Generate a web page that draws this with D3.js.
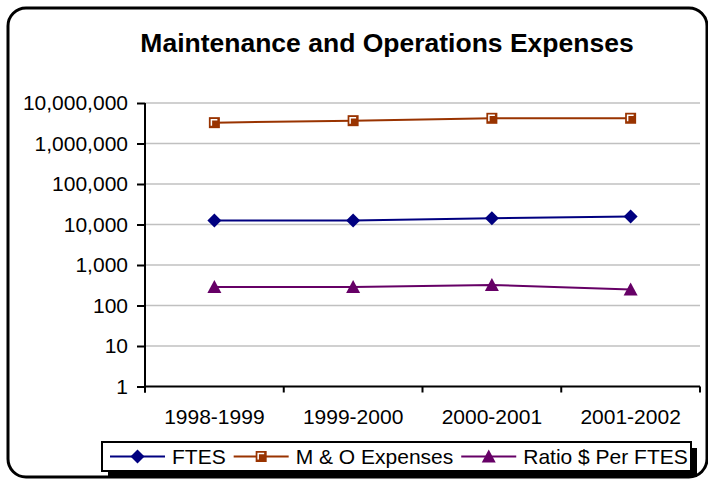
<!DOCTYPE html>
<html>
<head>
<meta charset="utf-8">
<script src="https://cdn.jsdelivr.net/npm/d3@7"></script>
<style>
  body { margin: 0; background: #fff; }
  svg { display: block; font-family: Arial, "Liberation Sans", sans-serif; }
</style>
</head>
<body>
<svg id="chart" width="708" height="479"></svg>
<script>
// data
var years = ["1998-1999", "1999-2000", "2000-2001", "2001-2002"];
var ftes = [12500, 12500, 14300, 15800];
var moExpenses = [3270000, 3660000, 4190000, 4200000];
var ratioPerFtes = [288, 288, 323, 250];
var yTicks = [1, 10, 100, 1000, 10000, 100000, 1000000, 10000000];

var series = [
  { name: "FTES", values: ftes, color: "#000080", marker: "diamond" },
  { name: "M & O Expenses", values: moExpenses, color: "#993300", marker: "square" },
  { name: "Ratio $ Per FTES", values: ratioPerFtes, color: "#660066", marker: "triangle" }
];

var svg = d3.select("#chart");
var plotLeft = 145, plotRight = 700, plotTop = 103, plotBottom = 386.5;

// chart area border
svg.append("rect")
    .attr("x", 8).attr("y", 8)
    .attr("width", 699).attr("height", 469)
    .attr("rx", 18)
    .attr("fill", "#fff")
    .attr("stroke", "#000")
    .attr("stroke-width", 3);

svg.append("text")
    .attr("x", 387).attr("y", 52)
    .attr("text-anchor", "middle")
    .attr("font-size", 26.5)
    .attr("font-weight", "bold")
    .text("Maintenance and Operations Expenses");

var x = d3.scaleBand().domain(years).range([plotLeft, plotRight]);
var y = d3.scaleLog().domain([1, 10000000]).range([plotBottom, plotTop]);

// gridlines
svg.append("g")
    .selectAll("line")
    .data(yTicks.slice(1))
    .enter().append("line")
      .attr("x1", plotLeft).attr("x2", plotRight)
      .attr("y1", function(d) { return y(d); })
      .attr("y2", function(d) { return y(d); })
      .attr("stroke", "#c0c0c0")
      .attr("stroke-width", 1.5);

var yAxis = svg.append("g")
    .attr("transform", "translate(" + plotLeft + ",0)")
    .call(d3.axisLeft(y).tickValues(yTicks).tickFormat(d3.format(",")).tickSize(8).tickPadding(9));

var xAxis = svg.append("g")
    .attr("transform", "translate(0," + plotBottom + ")")
    .call(d3.axisBottom(x).tickSize(0).tickPadding(23));

// category boundary ticks
xAxis.selectAll(".bound")
    .data(d3.range(years.length + 1))
    .enter().append("line")
      .attr("class", "bound")
      .attr("x1", function(i) { return plotLeft + i * x.step(); })
      .attr("x2", function(i) { return plotLeft + i * x.step(); })
      .attr("y1", 0).attr("y2", 6)
      .attr("stroke", "#000").attr("stroke-width", 2);

[yAxis, xAxis].forEach(function(a) {
  a.select(".domain").attr("stroke", "#000").attr("stroke-width", 2);
  a.selectAll(".tick line").attr("stroke", "#000").attr("stroke-width", 2);
  a.selectAll("text").attr("font-size", 21).attr("fill", "#000")
      .attr("font-family", "Arial, 'Liberation Sans', sans-serif");
});
yAxis.select(".domain").attr("d", "M0," + plotTop + "V" + (plotBottom + 6));
xAxis.select(".domain").attr("d", "M" + plotLeft + ",0H" + plotRight);

function drawMarker(g, type, color) {
  if (type === "diamond") {
    g.append("path").attr("d", "M0,-7L7,0L0,7L-7,0Z").attr("fill", color);
  } else if (type === "square") {
    g.append("rect").attr("x", -5.5).attr("y", -5.5).attr("width", 11).attr("height", 11)
        .attr("fill", color);
    g.append("path").attr("d", "M-3,3V-3H3").attr("fill", "none")
        .attr("stroke", "#fff").attr("stroke-width", 1.5);
  } else {
    g.append("path").attr("d", "M0,-7L7,6L-7,6Z").attr("fill", color);
  }
}

var line = d3.line()
    .x(function(d, i) { return x(years[i]) + x.bandwidth() / 2; })
    .y(function(d) { return y(d); });

series.forEach(function(s) {
  svg.append("path")
      .datum(s.values)
      .attr("d", line)
      .attr("fill", "none")
      .attr("stroke", s.color)
      .attr("stroke-width", 2);
  s.values.forEach(function(v, i) {
    var g = svg.append("g")
        .attr("transform", "translate(" + (x(years[i]) + x.bandwidth() / 2) + "," + y(v) + ")");
    drawMarker(g, s.marker, s.color);
  });
});

// legend
var lx = 102, ly = 442, lw = 589, lh = 29;
svg.append("rect").attr("x", lx + 6).attr("y", ly + 6).attr("width", lw).attr("height", lh)
    .attr("fill", "#000");
svg.append("rect").attr("x", lx).attr("y", ly).attr("width", lw).attr("height", lh)
    .attr("fill", "#fff").attr("stroke", "#000").attr("stroke-width", 2);

var cx = lx + 8, cy = ly + lh / 2;
series.forEach(function(s) {
  svg.append("line").attr("x1", cx).attr("x2", cx + 55).attr("y1", cy).attr("y2", cy)
      .attr("stroke", s.color).attr("stroke-width", 2);
  drawMarker(svg.append("g").attr("transform", "translate(" + (cx + 27.5) + "," + cy + ")"), s.marker, s.color);
  var t = svg.append("text").attr("x", cx + 62).attr("y", cy + 7.5)
      .attr("font-size", 21).text(s.name);
  cx += 62 + t.node().getComputedTextLength() + 8;
});
</script>
</body>
</html>
